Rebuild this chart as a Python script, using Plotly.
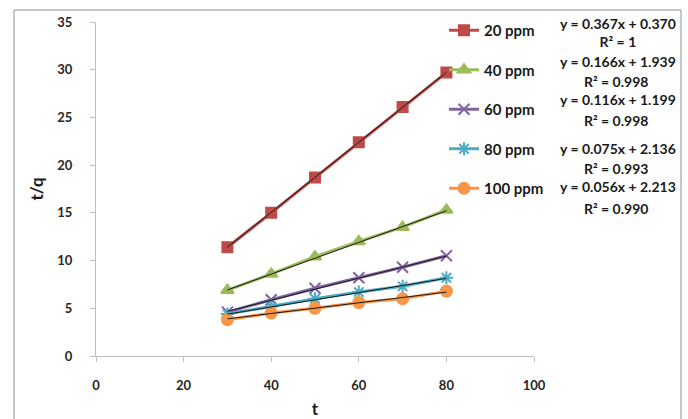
import numpy as np
import plotly.graph_objects as go

# Contact time (min)
t = [30, 40, 50, 60, 70, 80]

series_names = ["20 ppm", "40 ppm", "60 ppm", "80 ppm", "100 ppm"]
tq_20 = [11.4, 15.0, 18.7, 22.4, 26.1, 29.7]
tq_40 = [6.9, 8.6, 10.4, 12.0, 13.5, 15.3]
tq_60 = [4.6, 5.9, 7.1, 8.2, 9.3, 10.5]
tq_80 = [4.4, 5.2, 6.0, 6.7, 7.3, 8.2]
tq_100 = [3.8, 4.5, 5.0, 5.6, 6.0, 6.8]

# Linear fits (slope, intercept, R^2) shown beside the legend
slopes = [0.367, 0.166, 0.116, 0.075, 0.056]
intercepts = [0.370, 1.939, 1.199, 2.136, 2.213]
r2_labels = ["1", "0.998", "0.998", "0.993", "0.990"]

values = [tq_20, tq_40, tq_60, tq_80, tq_100]
colors = ["#BE4B48", "#9BBB59", "#8064A2", "#4BACC6", "#F79646"]
symbols = ["square", "triangle-up", "x-thin-open", "asterisk-open", "circle"]
msizes = [10, 11, 11, 11, 11]

FONT = "Lato"
TXT = "#1a1a1a"
fig = go.Figure()

for i, name in enumerate(series_names):
    fig.add_trace(go.Scatter(
        x=t, y=values[i], name=name, mode="lines+markers",
        legendgroup=name,
        line=dict(color=colors[i], width=3),
        marker=dict(symbol=symbols[i], size=msizes[i], color=colors[i],
                    line=dict(color=colors[i], width=2)),
    ))

for i, name in enumerate(series_names):
    xs = np.array([t[0], t[-1]])
    fig.add_trace(go.Scatter(
        x=xs, y=slopes[i] * xs + intercepts[i], mode="lines",
        line=dict(color="#1a1a1a", width=1), showlegend=False,
        legendgroup=name, hoverinfo="skip",
    ))

W, H = 688, 419
L, R, T, B = 96, 154, 22, 63
pw, ph = W - L - R, H - T - B

def px_x(x):
    return (x - L) / pw

def px_y(y):
    return (H - B - y) / ph

eq_font = dict(family=FONT, size=14, color=TXT)

def eq_text(i):
    return f"<b>y = {slopes[i]:.3f}x + {intercepts[i]:.3f}</b>"

def r2_text(i):
    return f"<b>R² = {r2_labels[i]}</b>"

# First fit: both lines in one centred block
fig.add_annotation(x=px_x(618), y=px_y(33), xref="paper", yref="paper",
                   text=eq_text(0) + "<br>" + r2_text(0),
                   showarrow=False, xanchor="center", yanchor="middle",
                   align="center", font=eq_font)

# Remaining fits: equation row and R² row (pixel rows)
eq_rows = [(62, 81), (99, 120), (148, 168), (186, 208)]
for k, (y1, y2) in enumerate(eq_rows):
    i = k + 1
    fig.add_annotation(x=px_x(618), y=px_y(y1), xref="paper", yref="paper",
                       text=eq_text(i), showarrow=False,
                       xanchor="center", yanchor="middle", font=eq_font)
    fig.add_annotation(x=px_x(616), y=px_y(y2), xref="paper", yref="paper",
                       text=r2_text(i), showarrow=False,
                       xanchor="center", yanchor="middle", font=eq_font)

# Chart frame
fig.add_shape(type="rect", xref="paper", yref="paper",
              x0=px_x(14), x1=px_x(681), y0=px_y(440), y1=px_y(10),
              line=dict(color="#8c8c8c", width=1), fillcolor="rgba(0,0,0,0)")

axis_common = dict(
    showgrid=False, zeroline=False, showline=True, linecolor="#BFBFBF",
    linewidth=1, ticks="outside", ticklen=5, tickcolor="#BFBFBF",
    automargin=False,
    tickfont=dict(family=FONT, size=13, color="#262626", weight="bold"),
)

fig.update_xaxes(range=[0, 100], dtick=20, ticklabelstandoff=12, title=dict(
    text="<b>t</b>", font=dict(family=FONT, size=17, color=TXT), standoff=12),
    **axis_common)
fig.update_yaxes(range=[0, 35], dtick=5, ticklabelstandoff=15, title=dict(
    text="<b>t/q</b>", font=dict(family=FONT, size=17, color=TXT), standoff=9),
    **axis_common)

fig.update_layout(
    width=W, height=H,
    margin=dict(l=L, r=R, t=T, b=B),
    plot_bgcolor="white", paper_bgcolor="white",
    font=dict(family=FONT, size=13, color=TXT),
    legend=dict(x=px_x(444), y=px_y(14), xanchor="left", yanchor="top",
                font=dict(family=FONT, size=15, color=TXT, weight="bold"),
                tracegroupgap=17, itemwidth=30,
                bgcolor="rgba(0,0,0,0)"),
    showlegend=True,
)

fig.write_html("out.html")
